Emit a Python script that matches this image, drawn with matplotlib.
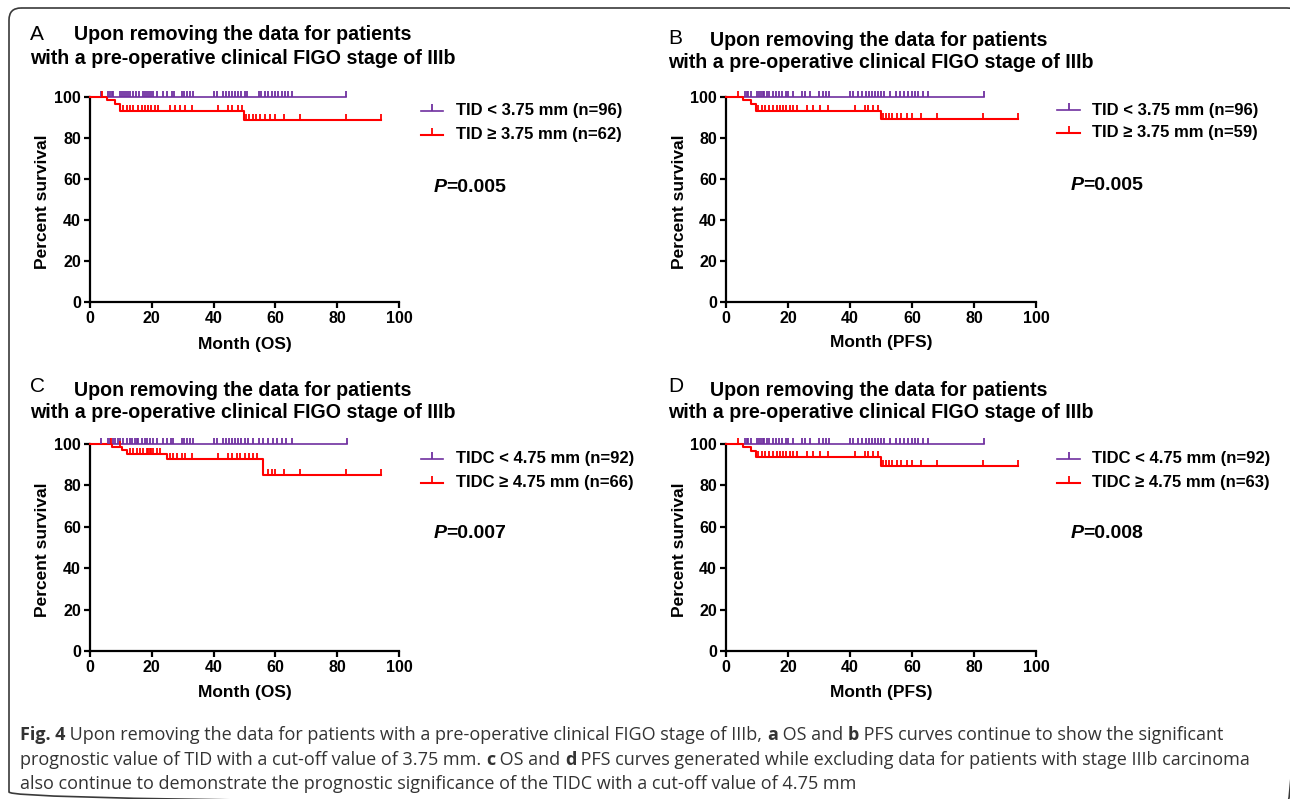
import numpy as np
import matplotlib
matplotlib.use("Agg")
import matplotlib.pyplot as plt
from matplotlib.patches import FancyBboxPatch

W, H = 1290, 799
PURPLE = "#7030A0"
RED = "#FF0000"

# ---------------- data (month, percent survival) ----------------
title_1 = "Upon removing the data for patients"
title_2 = "with a pre-operative clinical FIGO stage of IIIb"

# A: OS, TID
a_low_label = "TID < 3.75 mm (n=96)"
a_high_label = "TID \u2265 3.75 mm (n=62)"
a_low_end = 83.0
a_low_cens = [3.5, 5.9, 6.5, 7.0, 7.6, 9.7, 10.4, 11.0, 11.6, 12.2, 12.9, 14.0, 15.0,
              16.0, 17.0, 17.8, 18.3, 19.0, 19.9, 20.5, 21.6, 23.5, 25.0, 26.5, 27.2,
              29.7, 30.5, 31.5, 32.3, 33.2, 40.0, 41.0, 43.0, 44.0, 45.0, 46.0, 47.0,
              48.0, 49.0, 50.0, 50.7, 54.7, 55.5, 56.5, 57.6, 58.8, 60.0, 61.0, 62.0,
              63.0, 64.0, 65.3, 83.0]
a_high_t = [0, 5.4, 8.1, 9.7, 49.8]
a_high_s = [100, 98.4, 96.7, 93.3, 88.8]
a_high_end = 94.2
a_high_cens = [3.8, 10.8, 11.9, 12.9, 14.0, 15.6, 16.7, 17.8, 18.9, 19.9, 21.0, 22.1,
               25.9, 27.5, 29.1, 30.7, 32.9, 41.5, 44.8, 45.8, 48.0, 49.1, 50.5, 51.6,
               52.6, 53.7, 55.0, 56.6, 58.3, 59.9, 62.8, 68.0, 83.0, 94.2]
a_p = "0.005"

# B: PFS, TID
b_low_label = "TID < 3.75 mm (n=96)"
b_high_label = "TID \u2265 3.75 mm (n=59)"
b_low_end = 83.2
b_low_cens = [6.1, 6.7, 7.2, 8.0, 9.9, 10.5, 11.2, 11.8, 12.4, 13.1, 14.0, 15.0, 16.0,
              17.0, 18.0, 19.4, 20.1, 21.7, 24.4, 25.5, 27.1, 30.1, 31.2, 32.2, 33.3,
              40.0, 41.0, 42.7, 44.0, 45.0, 46.0, 47.0, 48.0, 49.0, 50.0, 51.0, 52.9,
              54.7, 56.0, 57.5, 58.8, 59.9, 61.0, 62.0, 63.5, 65.3, 83.2]
b_high_t = [0, 5.4, 8.0, 9.7, 50.0]
b_high_s = [100, 98.4, 96.7, 93.2, 89.2]
b_high_end = 94.1
b_high_cens = [4.0, 10.4, 11.5, 12.5, 13.8, 15.0, 16.3, 17.5, 18.5, 19.5, 20.5, 21.5,
               22.8, 26.0, 28.2, 30.3, 33.0, 41.6, 44.8, 45.8, 47.5, 49.1, 50.5, 51.6,
               52.6, 53.7, 55.0, 56.6, 58.3, 59.9, 63.0, 68.0, 83.0, 94.1]
b_p = "0.005"

# C: OS, TIDC
c_low_label = "TIDC < 4.75 mm (n=92)"
c_high_label = "TIDC \u2265 4.75 mm (n=66)"
c_low_end = 83.1
c_low_cens = [3.5, 5.9, 6.5, 7.6, 8.1, 9.2, 9.7, 10.8, 11.9, 12.9, 13.5, 14.5, 15.1,
              15.6, 16.7, 17.8, 18.3, 19.4, 20.5, 21.6, 23.7, 25.0, 26.2, 27.0, 29.7,
              30.5, 31.5, 32.5, 33.4, 40.0, 41.0, 43.1, 44.0, 45.0, 46.0, 47.0, 48.0,
              49.0, 50.0, 51.0, 52.9, 54.7, 56.0, 57.5, 59.3, 60.4, 62.0, 63.5, 65.3, 83.1]
c_high_t = [0, 7.0, 10.5, 12.0, 25.0, 56.0]
c_high_s = [100, 98.5, 97.0, 95.4, 92.7, 85.1]
c_high_end = 94.2
c_high_cens = [6.7, 9.7, 12.9, 14.0, 15.3, 16.2, 17.3, 18.3, 18.9, 19.4, 19.9, 20.5,
               21.6, 22.7, 25.9, 27.0, 28.1, 29.7, 30.7, 32.9, 41.5, 44.8, 45.8, 47.5,
               48.6, 50.2, 51.3, 52.9, 54.0, 57.7, 58.8, 59.9, 62.8, 68.0, 83.0, 94.2]
c_p = "0.007"

# D: PFS, TIDC
d_low_label = "TIDC < 4.75 mm (n=92)"
d_high_label = "TIDC \u2265 4.75 mm (n=63)"
d_low_end = 83.2
d_low_cens = [6.1, 6.7, 7.2, 8.0, 9.9, 10.5, 11.2, 11.8, 12.4, 13.1, 14.0, 15.0, 16.0,
              17.0, 18.0, 19.4, 20.1, 21.7, 24.4, 25.5, 27.1, 30.1, 31.2, 32.2, 33.3,
              40.0, 41.0, 42.7, 44.0, 45.0, 46.0, 47.0, 48.0, 49.0, 50.0, 51.0, 52.9,
              54.7, 56.0, 57.5, 58.8, 59.9, 61.0, 62.0, 63.5, 65.3, 83.2]
d_high_t = [0, 5.4, 8.0, 9.7, 50.0]
d_high_s = [100, 98.4, 96.8, 93.5, 89.6]
d_high_end = 94.1
d_high_cens = [4.0, 10.4, 11.5, 12.5, 13.8, 15.0, 16.3, 17.5, 18.5, 19.5, 20.5, 21.5,
               22.8, 26.0, 28.2, 30.3, 33.0, 41.6, 44.8, 45.8, 47.5, 49.1, 50.5, 51.6,
               52.6, 53.7, 55.0, 56.6, 58.3, 59.9, 63.0, 68.0, 83.0, 94.1]
d_p = "0.008"

caption_lines = [
    [("Fig. 4", True), (" Upon removing the data for patients with a pre-operative clinical FIGO stage of IIIb, ", False),
     ("a", True), (" OS and ", False), ("b", True), (" PFS curves continue to show the significant", False)],
    [("prognostic value of TID with a cut-off value of 3.75 mm. ", False), ("c", True), (" OS and ", False),
     ("d", True), (" PFS curves generated while excluding data for patients with stage IIIb carcinoma", False)],
    [("also continue to demonstrate the prognostic significance of the TIDC with a cut-off value of 4.75 mm", False)],
]

# ---------------- figure ----------------
plt.rcParams["font.family"] = ["Liberation Sans", "DejaVu Sans"]
fig = plt.figure(figsize=(W / 100, H / 100), dpi=100)
ov = fig.add_axes([0, 0, 1, 1])
ov.set_xlim(0, W)
ov.set_ylim(H, 0)
ov.axis("off")

ov.add_patch(FancyBboxPatch((9, 8), 1290, 796, boxstyle="round,pad=0,rounding_size=12",
                            fc="none", ec="#3a3a3a", lw=1.2))


def km(ax, t, s, end, cens, color, lw):
    tt = list(t) + [end]
    ss = list(s) + [s[-1]]
    ax.step(tt, ss, where="post", color=color, lw=lw, clip_on=False, zorder=3)
    cy = [s[np.searchsorted(t, c, side="right") - 1] for c in cens]
    ax.plot(cens, cy, ls="none", marker=2, ms=4.2, mew=1.3, color=color, clip_on=False, zorder=4)


panels = [
    ("A", 90, 302, 309, 205, "Month (OS)",
     (a_low_end, a_low_cens, a_low_label), (a_high_t, a_high_s, a_high_end, a_high_cens, a_high_label), a_p,
     (30, 35, 74, 35, 30, 58), (421, 443, 111, 135, 456), (434, 187), (-0.128, -0.17)),
    ("B", 726, 302, 310, 205, "Month (PFS)",
     (b_low_end, b_low_cens, b_low_label), (b_high_t, b_high_s, b_high_end, b_high_cens, b_high_label), b_p,
     (668, 38, 710, 41, 668, 63), (1057, 1080, 110, 133, 1092), (1071, 185), (-0.125, -0.16)),
    ("C", 90, 651, 309, 207, "Month (OS)",
     (c_low_end, c_low_cens, c_low_label), (c_high_t, c_high_s, c_high_end, c_high_cens, c_high_label), c_p,
     (30, 386, 74, 390, 30, 413), (421, 443, 459, 483, 456), (434, 533), (-0.128, -0.165)),
    ("D", 726, 651, 310, 207, "Month (PFS)",
     (d_low_end, d_low_cens, d_low_label), (d_high_t, d_high_s, d_high_end, d_high_cens, d_high_label), d_p,
     (668, 386, 710, 390, 668, 413), (1057, 1080, 459, 483, 1092), (1071, 533), (-0.125, -0.165)),
]

for (letter, left, bottom, width, height, xlab, low, high, pval,
     tpos, lpos, ppos, lab_off) in panels:
    ax = fig.add_axes([left / W, 1 - bottom / H, width / W, height / H])
    km(ax, [0], [100], low[0], low[1], PURPLE, 1.2)
    km(ax, high[0], high[1], high[2], high[3], RED, 1.5)
    ax.set_xlim(0, 100)
    ax.set_ylim(0, 100)
    ax.set_xticks([0, 20, 40, 60, 80, 100])
    ax.set_yticks([0, 20, 40, 60, 80, 100])
    for sp in ("top", "right"):
        ax.spines[sp].set_visible(False)
    for sp in ("left", "bottom"):
        ax.spines[sp].set_linewidth(1.6)
    ax.tick_params(width=1.6, length=4.5, pad=2, labelsize=11.5)
    for lbl in ax.get_xticklabels() + ax.get_yticklabels():
        lbl.set_fontweight("bold")
    ax.set_xlabel(xlab, fontsize=12.5, fontweight="bold")
    ax.set_ylabel("Percent survival", fontsize=12.5, fontweight="bold")
    ax.xaxis.set_label_coords(0.5, lab_off[1])
    ax.yaxis.set_label_coords(lab_off[0], 0.49)

    # titles
    ov.text(tpos[0], tpos[1], letter, fontsize=15, va="center", ha="left")
    ov.text(tpos[2], tpos[3], title_1, fontsize=14.1, fontweight="bold", va="center", ha="left")
    ov.text(tpos[4], tpos[5], title_2, fontsize=14.1, fontweight="bold", va="center", ha="left")

    # legend
    for y, col, lw, lab in ((lpos[2], PURPLE, 1.2, low[2]), (lpos[3], RED, 1.5, high[4])):
        ov.plot([lpos[0], lpos[1]], [y, y], color=col, lw=lw)
        ov.plot([(lpos[0] + lpos[1]) / 2], [y], ls="none", marker=2, ms=5, mew=1.3, color=col)
        ov.text(lpos[4], y, lab, fontsize=12, fontweight="bold", va="center", ha="left")

    pt = ov.text(ppos[0], ppos[1], "P", fontsize=14, fontweight="bold", style="italic",
                 va="center", ha="left")
    fig.canvas.draw()
    bb = pt.get_window_extent(fig.canvas.get_renderer())
    ov.text(ppos[0] + bb.width - 1, ppos[1], "=" + pval, fontsize=14, fontweight="bold",
            va="center", ha="left")

# caption
renderer = fig.canvas.get_renderer()
cap_kw = dict(fontsize=12.95, family=["Open Sans", "DejaVu Sans"], color="#333333", va="center", ha="left")


def run_width(txt, bold):
    w = "bold" if bold else "normal"
    t1 = ov.text(0, 0, "|" + txt + "|", fontweight=w, **cap_kw)
    t2 = ov.text(0, 0, "||", fontweight=w, **cap_kw)
    d = t1.get_window_extent(renderer).width - t2.get_window_extent(renderer).width
    t1.remove()
    t2.remove()
    return d


for y, runs in zip([735, 760, 784], caption_lines):
    x = 20
    for txt, bold in runs:
        ov.text(x, y, txt, fontweight="bold" if bold else "normal", **cap_kw)
        x += run_width(txt, bold)

fig.savefig("out.png", dpi=100)
